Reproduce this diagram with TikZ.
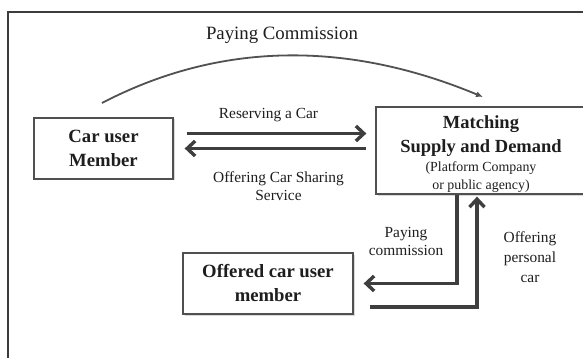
\documentclass[tikz,border=0pt]{standalone}
\usepackage{fontspec}
\setmainfont{Liberation Serif}
\usetikzlibrary{arrows.meta,shadows}
\definecolor{framegray}{HTML}{3C3C3C}
\definecolor{boxgray}{HTML}{505050}
\definecolor{arrowgray}{HTML}{3E3E3E}
\definecolor{inkgray}{HTML}{1E1E1E}

\begin{document}

\begin{tikzpicture}[x=1pt,y=-1pt,
  boxnode/.style={draw=boxgray, line width=1.3pt, fill=white, inner sep=0pt,
    align=center, text=inkgray,
    font=\bfseries\fontsize{18.7}{24}\selectfont,
    drop shadow={shadow xshift=1.5pt, shadow yshift=-1.5pt, opacity=0.3, fill=gray}},
  flowlabel/.style={align=center, text=inkgray, inner sep=0pt,
    font=\fontsize{15.4}{18}\selectfont},
  bigarrow/.style={draw=arrowgray, line width=3.4pt,
    -{Straight Barb[length=8pt,width=15pt]}},
  thinarrow/.style={draw=arrowgray!90, line width=1.8pt,
    -{Latex[length=7pt,width=6pt]}}]
  % page area
  \clip (0,0) rectangle (583,358);
  \fill[white] (0,0) rectangle (583,358);
  % outer frame (runs off the right and bottom edges)
  \draw[framegray, line width=2pt] (8,370) -- (8,12) -- (600,12);

  % boxes
  \node[boxnode, minimum width=139pt, minimum height=61pt] (car) at (103.5,148.5)
    {Car user\\Member};
  \node[boxnode, minimum width=214pt, minimum height=87pt] (match) at (483,150.5) {};
  \node[align=center, text=inkgray, inner sep=0pt,
    font=\bfseries\fontsize{18.5}{24}\selectfont] (matchtitle) at (481,136)
    {Matching\\Supply and Demand};
  \node[align=center, text=inkgray, inner sep=0pt,
    font=\fontsize{13.9}{18}\selectfont] (matchsub) at (481,177.5)
    {(Platform Company\\or public agency)};
  \node[boxnode, minimum width=170pt, minimum height=61pt] (offered) at (268,283.5)
    {Offered car user\\member};

  % commission arc over the top
  \coordinate (arcS) at (102,103);
  \coordinate (arcE) at (483,97);
  \draw[thinarrow] (arcS) .. controls (219,42) and (346,40) .. (arcE);
  \node[flowlabel, font=\fontsize{18.8}{22}\selectfont] (paylbl) at (282,35)
    {Paying Commission};

  % car user <-> matching
  \draw[bigarrow, shorten <=13pt, shorten >=9pt]
    ([yshift=15pt]car.east) -- ([yshift=15pt]car.east -| match.west);
  \draw[bigarrow, shorten <=9pt, shorten >=11pt]
    (car.east -| match.west) -- (car.east);
  \node[flowlabel] (reslbl) at (268.5,115) {Reserving a Car};
  \node[flowlabel] (offlbl) at (278.5,186) {Offering Car Sharing\\Service};

  % offered member <-> matching
  \coordinate (dn) at (457,0);
  \coordinate (up) at (477,0);
  \draw[bigarrow, shorten >=10pt]
    (dn |- match.south) |- (offered.east);
  \draw[bigarrow, shorten <=16pt, shorten >=2pt]
    ([yshift=-23.5pt]offered.east) -| (up |- match.south);
  \node[flowlabel] (paycom) at (406,241) {Paying\\commission};
  \node[flowlabel, font=\fontsize{15.4}{20}\selectfont] (offcar) at (530,257)
    {Offering\\personal\\car};
\end{tikzpicture}

\end{document}
